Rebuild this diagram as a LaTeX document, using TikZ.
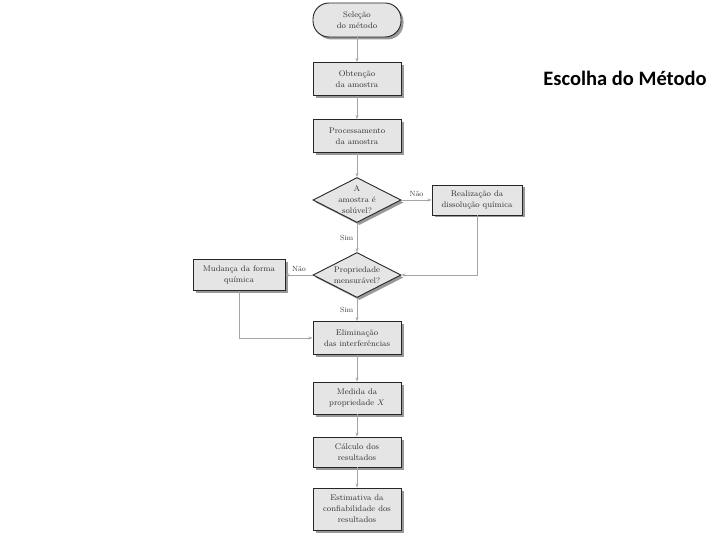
\documentclass[tikz,border=0pt]{standalone}
\usepackage{fontspec}
\newfontfamily\titlefont{Carlito}
\usetikzlibrary{shapes.geometric,shadows,arrows.meta}

\tikzset{
	base/.style={draw=black!85, line width=0.9pt, fill=black!10, text=black!80,
		font=\fontsize{8.2}{11}\selectfont, align=center,
		drop shadow={shadow xshift=2.5pt, shadow yshift=-2.5pt, fill=black!40, opacity=1}},
	stepbox/.style={base, rectangle, minimum width=88pt, minimum height=33pt, inner sep=1pt},
	startbox/.style={base, rectangle, rounded corners=16pt, minimum width=88pt, minimum height=34pt},
	question/.style={base, diamond, aspect=2, inner sep=-6pt, minimum width=88pt, minimum height=45pt},
	flow/.style={draw=black!35, line width=0.6pt, -{Stealth[length=4pt,width=3pt]}},
	answer/.style={font=\fontsize{7.5}{8}\selectfont, text=black!75}
}

\begin{document}
\begin{tikzpicture}[x=1pt, y=-1pt]
	\useasboundingbox (0,0) rectangle (720,540);

	\node[startbox] (sel) at (357,20) {Seleção\\do método};
	\node[stepbox] (obt) at (357,79) {Obtenção\\da amostra};
	\node[stepbox] (proc) at (357,136) {Processamento\\da amostra};
	\node[question] (solv) at (357,200) {A\\amostra é\\solúvel?};
	\node[stepbox, minimum width=90pt, minimum height=30pt] (diss) at (477,200) {Realização da\\dissolução química};
	\node[question] (mens) at (357,275) {Propriedade\\mensurável?};
	\node[stepbox, minimum width=92pt, minimum height=31pt] (mud) at (239,275) {Mudança da forma\\química};
	\node[stepbox] (elim) at (357,338) {Eliminação\\das interferências};
	\node[stepbox, minimum height=32pt] (med) at (357,398) {Medida da\\propriedade $X$};
	\node[stepbox, minimum height=30pt] (calc) at (357,452) {Cálculo dos\\resultados};
	\node[stepbox, minimum height=42pt] (conf) at (357,509) {Estimativa da\\confiabilidade dos\\resultados};

	\node (title) at (625,78) {\titlefont\bfseries\fontsize{20.5}{24}\selectfont Escolha do Método};

	\draw[flow] (sel) -- (obt);
	\draw[flow] (obt) -- (proc);
	\draw[flow] (proc) -- (solv);
	\draw[flow] (solv) -- node[answer, above] {Não} (diss);
	\draw[flow] (solv) -- node[answer, left] {Sim} (mens);
	\draw[flow] (diss.south) |- (mens.east);
	\draw[flow] (mens) -- node[answer, above] {Não} (mud);
	\draw[flow] (mens) -- node[answer, left] {Sim} (elim);
	\draw[flow] (mud.south) |- (elim.west);
	\draw[flow] (elim) -- (med);
	\draw[flow] (med) -- (calc);
	\draw[flow] (calc) -- (conf);
\end{tikzpicture}
\end{document}
